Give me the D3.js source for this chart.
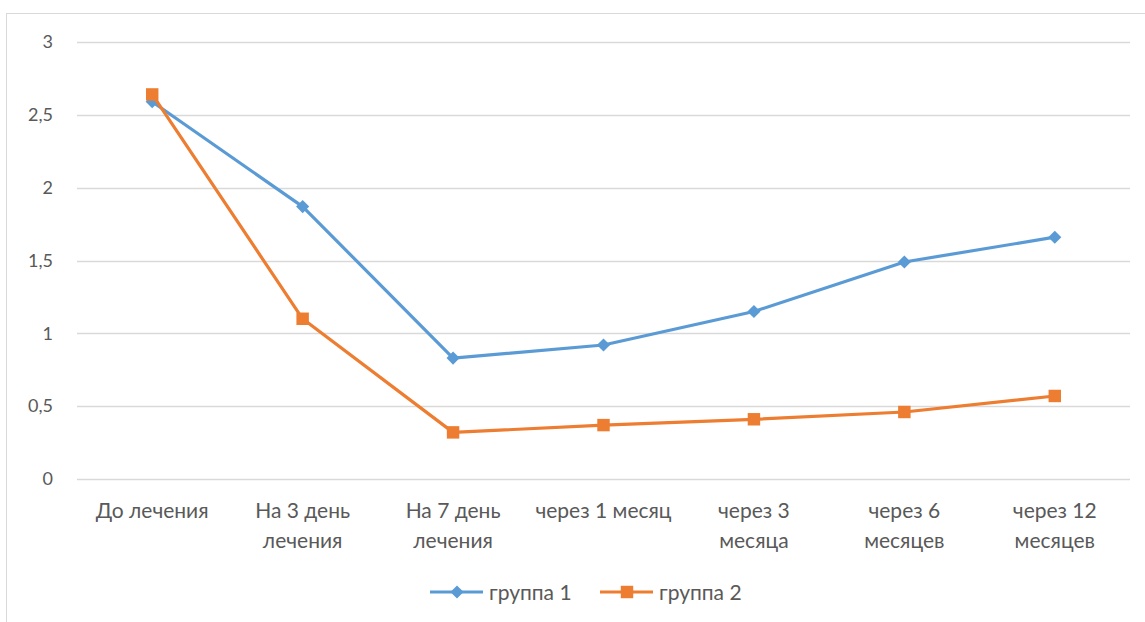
<!DOCTYPE html>
<html>
<head>
<meta charset="utf-8">
<script src="https://cdn.jsdelivr.net/npm/d3@7"></script>
<style>
  html, body { margin: 0; padding: 0; background: #fff; }
  svg { display: block; }
  text { font-family: Lato, "Noto Sans", sans-serif; fill: #595959; }
</style>
</head>
<body>
<svg id="chart" width="1145" height="622"></svg>
<script>
// Time points of the observation
const categories = [
  ["До лечения"],
  ["На 3 день", "лечения"],
  ["На 7 день", "лечения"],
  ["через 1 месяц"],
  ["через 3", "месяца"],
  ["через 6", "месяцев"],
  ["через 12", "месяцев"]
];
const seriesNames = ["группа 1", "группа 2"];
const group1 = [2.59, 1.87, 0.83, 0.92, 1.15, 1.49, 1.66];
const group2 = [2.64, 1.10, 0.32, 0.37, 0.41, 0.46, 0.57];
const yTicks = [0, 0.5, 1, 1.5, 2, 2.5, 3];
const yTickLabels = ["0", "0,5", "1", "1,5", "2", "2,5", "3"];

const colors = ["#5B9BD5", "#ED7D31"];
const svg = d3.select("#chart");

// Outer chart frame
svg.append("rect")
  .attr("x", 6.5).attr("y", 13.5)
  .attr("width", 1160).attr("height", 640)
  .attr("fill", "none").attr("stroke", "#D9D9D9").attr("stroke-width", 1);

const plotLeft = 77, plotRight = 1130, plotTop = 42, plotBottom = 479;

const x = d3.scaleBand()
  .domain(d3.range(categories.length))
  .range([plotLeft, plotRight]);
const y = d3.scaleLinear().domain([0, 3]).range([plotBottom, plotTop]);

// Horizontal gridlines
svg.append("g")
  .selectAll("line")
  .data(yTicks)
  .join("line")
  .attr("x1", plotLeft).attr("x2", plotRight)
  .attr("y1", d => Math.round(y(d)) + 0.5)
  .attr("y2", d => Math.round(y(d)) + 0.5)
  .attr("stroke", "#D9D9D9").attr("stroke-width", 1.5);

// Y axis labels
const yAxis = d3.axisLeft(y)
  .tickValues(yTicks)
  .tickFormat((d, i) => yTickLabels[i])
  .tickSize(0).tickPadding(0);
const yg = svg.append("g").attr("transform", `translate(${plotLeft - 24},0)`).call(yAxis);
yg.select(".domain").remove();
yg.selectAll("text")
  .style("font-family", "Lato, 'Noto Sans', sans-serif")
  .style("font-size", "18px").attr("fill", "#595959");

// X axis labels (wrapped over two lines where needed)
const xg = svg.append("g");
categories.forEach((lines, i) => {
  const t = xg.append("text")
    .attr("x", x(i) + x.bandwidth() / 2)
    .attr("y", 518)
    .attr("text-anchor", "middle")
    .style("font-size", "21px");
  lines.forEach((ln, j) => {
    t.append("tspan")
      .attr("x", x(i) + x.bandwidth() / 2)
      .attr("dy", j === 0 ? 0 : 30)
      .text(ln);
  });
});

const cx = i => x(i) + x.bandwidth() / 2;
const line = d3.line().x((d, i) => cx(i)).y(d => y(d));

const diamond = d3.symbol().type(d3.symbolDiamond2).size(110);
const square = d3.symbol().type(d3.symbolSquare).size(155);

function drawSeries(values, color, sym) {
  const g = svg.append("g");
  g.append("path")
    .attr("d", line(values))
    .attr("fill", "none")
    .attr("stroke", color)
    .attr("stroke-width", 3.2)
    .attr("stroke-linejoin", "round");
  g.selectAll("path.m")
    .data(values)
    .join("path")
    .attr("class", "m")
    .attr("d", sym())
    .attr("transform", (d, i) => `translate(${cx(i)},${y(d)})`)
    .attr("fill", color);
}
drawSeries(group1, colors[0], diamond);
drawSeries(group2, colors[1], square);

// Legend
const legend = svg.append("g");
const legendItems = [
  { name: seriesNames[0], color: colors[0], sym: diamond, x: 430 },
  { name: seriesNames[1], color: colors[1], sym: square, x: 600 }
];
legendItems.forEach(it => {
  legend.append("line")
    .attr("x1", it.x).attr("x2", it.x + 53)
    .attr("y1", 592).attr("y2", 592)
    .attr("stroke", it.color).attr("stroke-width", 3.2);
  legend.append("path")
    .attr("d", it.sym())
    .attr("transform", `translate(${it.x + 27},592)`)
    .attr("fill", it.color);
  legend.append("text")
    .attr("x", it.x + 59).attr("y", 600)
    .style("font-size", "21px")
    .text(it.name);
});
</script>
</body>
</html>
